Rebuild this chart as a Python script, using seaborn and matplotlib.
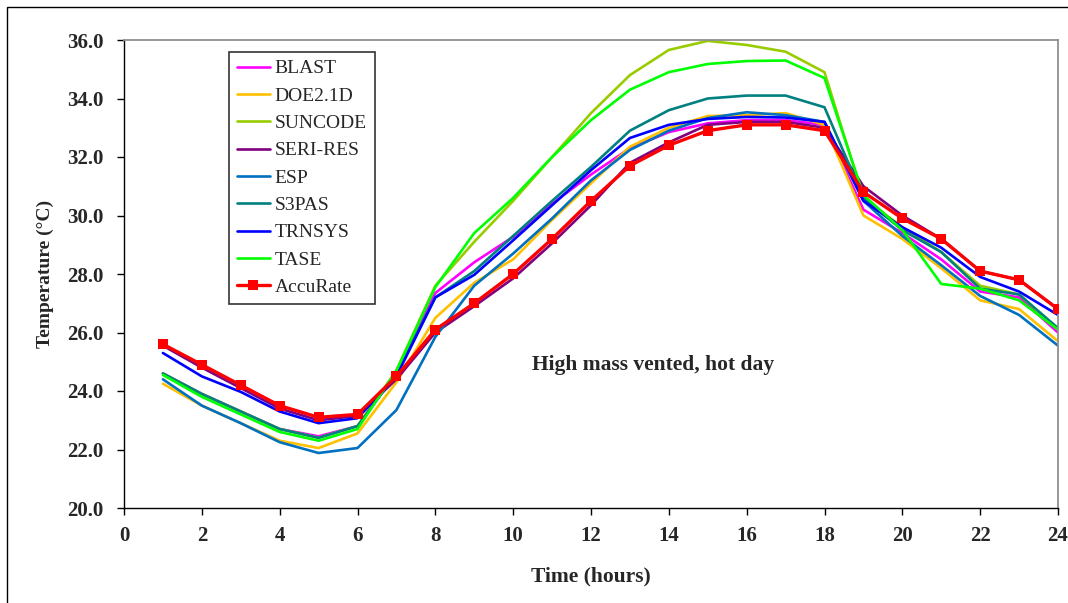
import matplotlib
matplotlib.use("Agg")
import matplotlib.pyplot as plt
import seaborn as sns
import pandas as pd
from matplotlib.patches import Rectangle

hours = list(range(1, 25))

blast = [24.6, 23.9, 23.3, 22.7, 22.45, 22.8, 24.6, 27.35, 28.4, 29.27, 30.4, 31.4, 32.3, 32.85, 33.15, 33.26, 33.26, 33.1, 30.2, 29.4, 28.5, 27.4, 27.2, 26.0]
doe21d = [24.25, 23.5, 22.9, 22.3, 22.05, 22.55, 24.3, 26.5, 27.7, 28.5, 29.85, 31.1, 32.35, 33.0, 33.4, 33.43, 33.5, 33.1, 30.0, 29.2, 28.2, 27.1, 26.8, 25.7]
suncode = [24.6, 23.9, 23.3, 22.7, 22.4, 22.8, 24.7, 27.6, 29.1, 30.5, 32.0, 33.5, 34.8, 35.66, 35.97, 35.83, 35.6, 34.9, 30.6, 29.6, 28.75, 27.6, 27.3, 26.1]
seri_res = [25.55, 24.8, 24.1, 23.4, 23.0, 23.15, 24.4, 26.0, 26.9, 27.85, 29.05, 30.35, 31.8, 32.5, 33.1, 33.2, 33.2, 33.0, 31.0, 30.0, 29.2, 28.1, 27.8, 26.8]
esp = [24.4, 23.5, 22.9, 22.25, 21.88, 22.05, 23.35, 25.85, 27.6, 28.7, 29.9, 31.2, 32.24, 32.9, 33.33, 33.53, 33.43, 33.2, 30.5, 29.3, 28.3, 27.25, 26.6, 25.55]
s3pas = [24.6, 23.9, 23.3, 22.7, 22.4, 22.8, 24.6, 27.2, 28.1, 29.3, 30.5, 31.66, 32.9, 33.6, 34.0, 34.1, 34.1, 33.7, 30.6, 29.5, 28.75, 27.5, 27.3, 26.15]
trnsys = [25.3, 24.5, 23.97, 23.3, 22.9, 23.07, 24.5, 27.2, 27.97, 29.15, 30.35, 31.55, 32.65, 33.1, 33.3, 33.37, 33.35, 33.2, 30.5, 29.6, 28.9, 27.9, 27.4, 26.6]
tase = [24.55, 23.8, 23.2, 22.6, 22.3, 22.7, 24.7, 27.55, 29.4, 30.6, 32.0, 33.26, 34.3, 34.9, 35.18, 35.28, 35.3, 34.7, 30.7, 29.5, 27.66, 27.5, 27.1, 26.1]
accurate = [25.6, 24.9, 24.2, 23.5, 23.1, 23.2, 24.5, 26.1, 27.0, 28.0, 29.2, 30.5, 31.7, 32.4, 32.9, 33.1, 33.1, 32.9, 30.8, 29.9, 29.2, 28.1, 27.8, 26.8]

series_names = ["BLAST", "DOE2.1D", "SUNCODE", "SERI-RES", "ESP", "S3PAS", "TRNSYS", "TASE", "AccuRate"]
series_values = [blast, doe21d, suncode, seri_res, esp, s3pas, trnsys, tase, accurate]
colors = ["#FF00FF", "#FFC000", "#99CC00", "#800080", "#0070C0", "#008080", "#0000FF", "#00FF00", "#FF0000"]

xticks = list(range(0, 25, 2))
yticks = [20.0, 22.0, 24.0, 26.0, 28.0, 30.0, 32.0, 34.0, 36.0]

sns.set_style("white")
plt.rcParams["font.family"] = ["Liberation Serif", "DejaVu Serif"]

fig = plt.figure(figsize=(10.68, 6.03), dpi=100)
ax = fig.add_axes([124 / 1068, 1 - 508 / 603, (1058 - 124) / 1068, (508 - 40) / 603])

for name, vals, col in zip(series_names, series_values, colors):
    df = pd.DataFrame({"hour": hours, "temp": vals})
    if name == "AccuRate":
        sns.lineplot(data=df, x="hour", y="temp", ax=ax, color=col, lw=2.4,
                     marker="s", markersize=7.5, markeredgewidth=0, label=name, zorder=5)
    else:
        sns.lineplot(data=df, x="hour", y="temp", ax=ax, color=col, lw=1.9, label=name)

ax.set_xlim(0, 24)
ax.set_ylim(20, 36)
ax.set_xticks(xticks)
ax.set_yticks(yticks)
ax.set_yticklabels([f"{v:.1f}" for v in yticks])
ax.tick_params(axis="both", direction="out", length=5, width=1, color="black",
               labelsize=15, left=True, bottom=True)
ax.tick_params(axis="y", pad=10)
ax.tick_params(axis="x", pad=8)
for lab in ax.get_xticklabels() + ax.get_yticklabels():
    lab.set_fontweight("bold")

ax.set_xlabel("Time (hours)", fontsize=15.5, fontweight="bold", labelpad=15)
ax.set_ylabel("Temperature (°C)", fontsize=14, fontweight="bold", labelpad=9)

for s in ["left", "bottom"]:
    ax.spines[s].set_color("black")
    ax.spines[s].set_linewidth(1.0)
for s in ["top", "right"]:
    ax.spines[s].set_color("#909090")
    ax.spines[s].set_linewidth(1.3)

ax.text(13.6, 24.9, "High mass vented, hot day", ha="center", va="center",
        fontsize=15.5, fontweight="bold")

leg = ax.legend(loc="upper left", bbox_to_anchor=((229 - 124) / 934, 1 - (52 - 40) / 468),
                fontsize=14, frameon=True, fancybox=False, shadow=False,
                handlelength=1.7, labelspacing=0.5, borderpad=0.4, handletextpad=0.25,
                borderaxespad=0)
leg.get_frame().set_edgecolor("black")
leg.get_frame().set_linewidth(1.2)

fig.patches.append(Rectangle((7 / 1068, -0.1), 1.2, 1 - 7 / 603 + 0.1,
                             transform=fig.transFigure, fill=False,
                             edgecolor="black", linewidth=1.0))

fig.savefig("out.png", dpi=100)
